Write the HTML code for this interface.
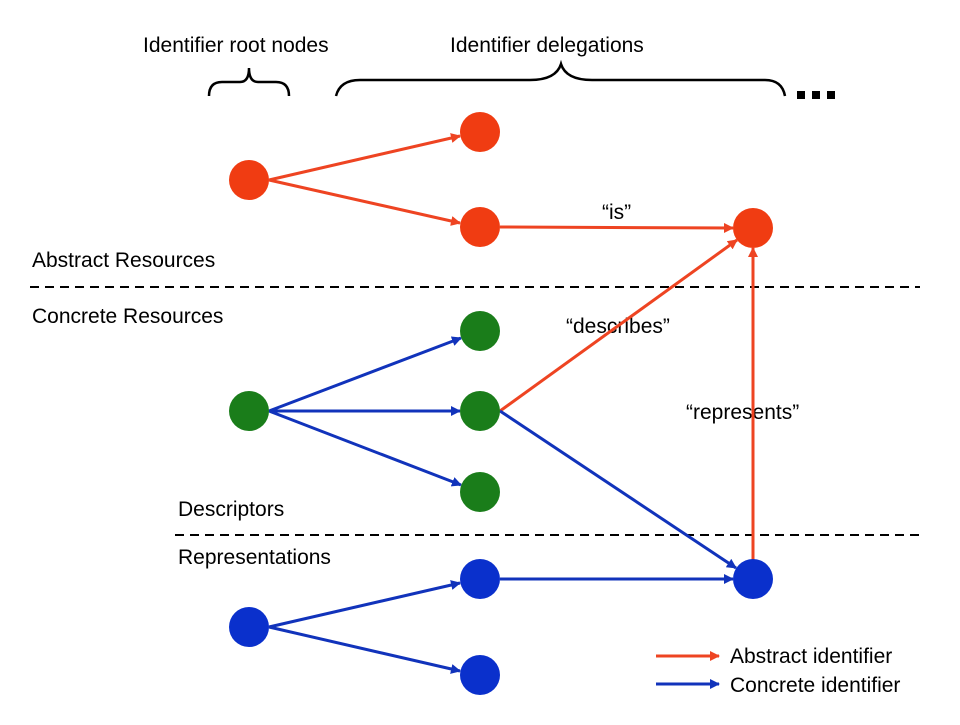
<!DOCTYPE html>
<html><head><meta charset="utf-8"><style>
body{margin:0;background:#fff;}
svg text{font-family:"Liberation Sans",sans-serif;font-size:21px;fill:#000;}
</style></head><body>
<svg width="960" height="720" viewBox="0 0 960 720" xmlns="http://www.w3.org/2000/svg">
<defs>
<marker id="r" markerWidth="10" markerHeight="10" refX="9" refY="5" orient="auto" markerUnits="userSpaceOnUse" viewBox="0 0 10 10"><path d="M0,0 L10,5 L0,10 z" fill="#ee4422"/></marker>
<marker id="b" markerWidth="10" markerHeight="10" refX="9" refY="5" orient="auto" markerUnits="userSpaceOnUse" viewBox="0 0 10 10"><path d="M0,0 L10,5 L0,10 z" fill="#1133bb"/></marker>
</defs>
<text x="143" y="52">Identifier root nodes</text>
<text x="450" y="52">Identifier delegations</text>
<path d="M209,96 Q209,82 222,82 L240,82 Q249,82 249,68 Q249,82 258,82 L276,82 Q289,82 289,96" fill="none" stroke="#000" stroke-width="2.5"/>
<path d="M336,96 Q340,80 360,80 L530,80 Q556,80 561,64 Q566,80 592,80 L765,80 Q782,80 785,96" fill="none" stroke="#000" stroke-width="2.5"/>
<rect x="797" y="91" width="8" height="8"/><rect x="812" y="91" width="8" height="8"/><rect x="827" y="91" width="8" height="8"/>
<text x="32" y="267">Abstract Resources</text>
<text x="32" y="323">Concrete Resources</text>
<text x="178" y="516">Descriptors</text>
<text x="178" y="564">Representations</text>
<text x="602" y="219">“is”</text>
<text x="566" y="333">“describes”</text>
<text x="686" y="419">“represents”</text>
<line x1="30" y1="287" x2="920" y2="287" stroke="#000" stroke-width="2" stroke-dasharray="9,6"/>
<line x1="175" y1="535" x2="920" y2="535" stroke="#000" stroke-width="2" stroke-dasharray="9,6"/>
<g stroke-width="3" fill="none">
<line x1="269" y1="180" x2="460" y2="136" stroke="#ee4422" marker-end="url(#r)"/>
<line x1="269" y1="180" x2="460" y2="223" stroke="#ee4422" marker-end="url(#r)"/>
<line x1="500" y1="227" x2="733" y2="228" stroke="#ee4422" marker-end="url(#r)"/>
<line x1="500" y1="411" x2="737" y2="240" stroke="#ee4422" marker-end="url(#r)"/>
<line x1="753" y1="579" x2="753" y2="248" stroke="#ee4422" marker-end="url(#r)"/>
<line x1="269" y1="411" x2="461" y2="338" stroke="#1133bb" marker-end="url(#b)"/>
<line x1="269" y1="411" x2="460" y2="411" stroke="#1133bb" marker-end="url(#b)"/>
<line x1="269" y1="411" x2="461" y2="485" stroke="#1133bb" marker-end="url(#b)"/>
<line x1="500" y1="411" x2="736" y2="568" stroke="#1133bb" marker-end="url(#b)"/>
<line x1="269" y1="627" x2="460" y2="583" stroke="#1133bb" marker-end="url(#b)"/>
<line x1="269" y1="627" x2="460" y2="671" stroke="#1133bb" marker-end="url(#b)"/>
<line x1="500" y1="579" x2="733" y2="579" stroke="#1133bb" marker-end="url(#b)"/>
<line x1="656" y1="656" x2="719" y2="656" stroke="#ee4422" marker-end="url(#r)"/>
<line x1="656" y1="684" x2="719" y2="684" stroke="#1133bb" marker-end="url(#b)"/>
</g>
<g fill="#f03c12">
<ellipse cx="249" cy="180" rx="20" ry="20"/><ellipse cx="480" cy="132" rx="20" ry="20"/><ellipse cx="480" cy="227" rx="20" ry="20"/><ellipse cx="753" cy="228" rx="20" ry="20"/>
</g>
<g fill="#1a7d1a">
<ellipse cx="249" cy="411" rx="20" ry="20"/><ellipse cx="480" cy="331" rx="20" ry="20"/><ellipse cx="480" cy="411" rx="20" ry="20"/><ellipse cx="480" cy="492" rx="20" ry="20"/>
</g>
<g fill="#0a30cc">
<ellipse cx="249" cy="627" rx="20" ry="20"/><ellipse cx="480" cy="579" rx="20" ry="20"/><ellipse cx="480" cy="675" rx="20" ry="20"/><ellipse cx="753" cy="579" rx="20" ry="20"/>
</g>
<text x="730" y="663">Abstract identifier</text>
<text x="730" y="692">Concrete identifier</text>
</svg>
</body></html>
